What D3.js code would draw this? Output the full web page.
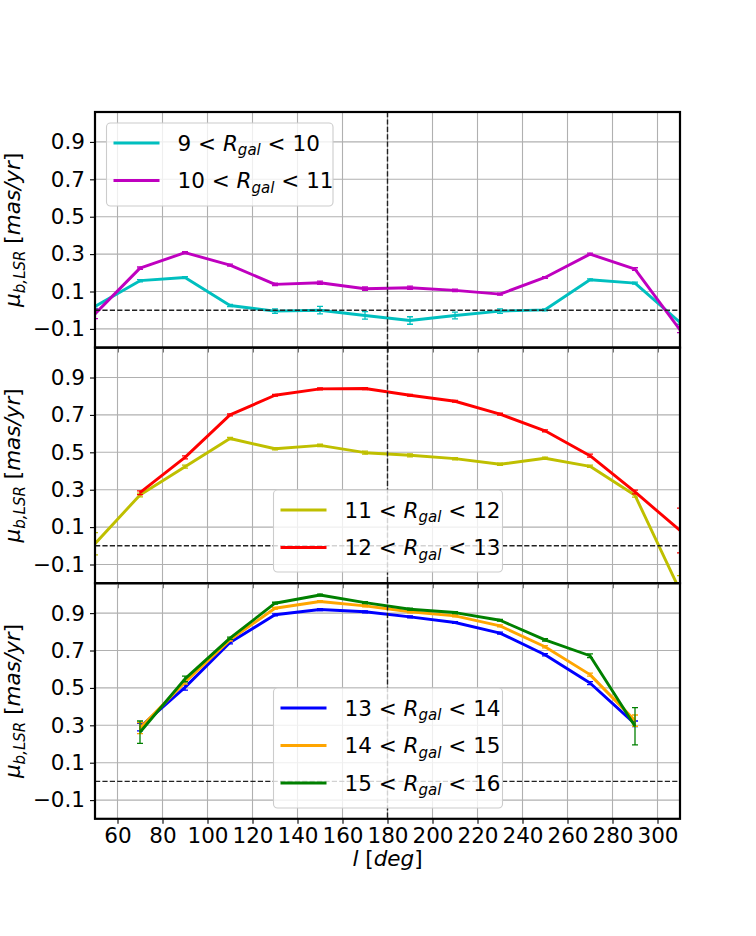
<!DOCTYPE html>
<html>
<head>
<meta charset="utf-8">
<script src="https://d3js.org/d3.v7.min.js"></script>
<style>
  body { margin: 0; background: #fff; }
  text { font-family: "DejaVu Sans", sans-serif; }
</style>
</head>
<body>
<div id="chart"></div>
<script>
// galactic longitude of each bin
const lon = [50, 70, 90, 110, 130, 150, 170, 190, 210, 230, 250, 270, 290, 310];
const lonRed = [70, 90, 110, 130, 150, 170, 190, 210, 230, 250, 270, 290, 310];
const lonOuter = [70, 90, 110, 130, 150, 170, 190, 210, 230, 250, 270, 290];

// panel 1
const r9 = [0.02, 0.158, 0.175, 0.025, -0.005, 0.0, -0.028, -0.055, -0.028, -0.005, 0.002, 0.163, 0.145, -0.065];
const r9err = [0.01, 0.006, 0.005, 0.006, 0.012, 0.02, 0.02, 0.02, 0.018, 0.012, 0.005, 0.005, 0.005, 0.01];
const r10 = [-0.02, 0.225, 0.308, 0.241, 0.138, 0.147, 0.115, 0.12, 0.106, 0.086, 0.175, 0.30, 0.22, -0.105];
const r10err = [0.025, 0.006, 0.005, 0.005, 0.007, 0.009, 0.009, 0.009, 0.007, 0.005, 0.005, 0.005, 0.007, 0.015];

// panel 2
const r11 = [0.011, 0.272, 0.423, 0.574, 0.519, 0.537, 0.498, 0.484, 0.466, 0.436, 0.468, 0.425, 0.27, -0.24];
const r11err = [0.06, 0.01, 0.008, 0.006, 0.006, 0.006, 0.008, 0.008, 0.006, 0.006, 0.006, 0.006, 0.01, 0.08];
const r12 = [0.284, 0.473, 0.70, 0.805, 0.839, 0.841, 0.805, 0.773, 0.704, 0.615, 0.482, 0.288, 0.082];
const r12err = [0.01, 0.008, 0.005, 0.005, 0.005, 0.005, 0.005, 0.005, 0.005, 0.005, 0.008, 0.01, 0.12];

// panel 3
const r13 = [0.29, 0.503, 0.743, 0.891, 0.919, 0.907, 0.88, 0.85, 0.793, 0.677, 0.526, 0.308];
const r13err = [0.02, 0.015, 0.008, 0.005, 0.005, 0.005, 0.005, 0.005, 0.005, 0.006, 0.008, 0.015];
const r14 = [0.285, 0.53, 0.757, 0.926, 0.962, 0.939, 0.907, 0.885, 0.832, 0.72, 0.571, 0.325];
const r14err = [0.03, 0.01, 0.006, 0.005, 0.005, 0.005, 0.005, 0.005, 0.005, 0.006, 0.008, 0.03];
const r15 = [0.263, 0.548, 0.766, 0.953, 0.997, 0.956, 0.921, 0.903, 0.862, 0.757, 0.672, 0.295];
const r15err = [0.06, 0.015, 0.006, 0.005, 0.005, 0.005, 0.005, 0.005, 0.005, 0.006, 0.01, 0.1];

const xTicks = [60, 80, 100, 120, 140, 160, 180, 200, 220, 240, 260, 280, 300];
const yTicks = [-0.1, 0.1, 0.3, 0.5, 0.7, 0.9];

const panels = [
  { series: [
      { lo: 9, hi: 10, color: "#00bfbf", x: lon, y: r9, e: r9err },
      { lo: 10, hi: 11, color: "#bf00bf", x: lon, y: r10, e: r10err }],
    legend: { x: 106.5, y: 123, w: 226.5, h: 83 } },
  { series: [
      { lo: 11, hi: 12, color: "#bfbf00", x: lon, y: r11, e: r11err },
      { lo: 12, hi: 13, color: "#ff0000", x: lonRed, y: r12, e: r12err }],
    legend: { x: 273.5, y: 490, w: 229, h: 82 } },
  { series: [
      { lo: 13, hi: 14, color: "#0000ff", x: lonOuter, y: r13, e: r13err },
      { lo: 14, hi: 15, color: "#ffa500", x: lonOuter, y: r14, e: r14err },
      { lo: 15, hi: 16, color: "#008000", x: lonOuter, y: r15, e: r15err }],
    legend: { x: 273.5, y: 688, w: 229, h: 120 } }
];

const W = 756, H = 936;
const left = 95, right = 680;
const top0 = 112, ph = 235.6;
const fs = 21.5;

const svg = d3.select("#chart").append("svg")
  .attr("width", W).attr("height", H);

const x = d3.scaleLinear().domain([50, 310]).range([left, right]);

panels.forEach(function(p, i) {
  const t = top0 + i * ph;
  const y = d3.scaleLinear().domain([-0.2, 1.06]).range([t + ph, t]);
  const g = svg.append("g");

  g.append("clipPath").attr("id", "clip" + i)
    .append("rect").attr("x", left).attr("y", t).attr("width", right - left).attr("height", ph);

  // grid
  g.selectAll(null).data(xTicks).join("line")
    .attr("x1", d => x(d)).attr("x2", d => x(d))
    .attr("y1", t).attr("y2", t + ph)
    .attr("stroke", "#b0b0b0").attr("stroke-width", 1.1);
  g.selectAll(null).data(yTicks).join("line")
    .attr("x1", left).attr("x2", right)
    .attr("y1", d => y(d)).attr("y2", d => y(d))
    .attr("stroke", "#b0b0b0").attr("stroke-width", 1.1);

  // y axis ticks + labels
  const ya = g.append("g").attr("transform", `translate(${left},0)`)
    .call(d3.axisLeft(y).tickValues(yTicks).tickSize(5).tickPadding(5)
      .tickFormat(d => d3.format(".1f")(d).replace("-", "\u2212")));
  ya.select(".domain").remove();
  ya.selectAll("line").attr("stroke", "#000").attr("stroke-width", 1.1);
  ya.selectAll("text").style("font-size", fs + "px").style("font-family", "DejaVu Sans").attr("fill", "#000");

  // x axis ticks
  const xa = g.append("g").attr("transform", `translate(0,${t + ph})`)
    .call(d3.axisBottom(x).tickValues(xTicks).tickSize(5).tickPadding(4));
  xa.select(".domain").remove();
  xa.selectAll("line").attr("stroke", "#000").attr("stroke-width", 1.1);
  xa.selectAll("text").style("font-size", fs + "px").style("font-family", "DejaVu Sans").attr("fill", "#000");
  if (i < 2) xa.selectAll("text").remove();

  const plot = g.append("g").attr("clip-path", `url(#clip${i})`);

  p.series.forEach(function(s) {
    const pts = s.x.map((xv, k) => ({ x: xv, y: s.y[k], e: s.e[k] }));
    plot.append("path").datum(pts)
      .attr("fill", "none").attr("stroke", s.color).attr("stroke-width", 2.9)
      .attr("stroke-linejoin", "round")
      .attr("d", d3.line().x(d => x(d.x)).y(d => y(d.y)));
    const eb = plot.append("g").attr("stroke", s.color).attr("stroke-width", 1.3);
    eb.selectAll(null).data(pts).join("line")
      .attr("x1", d => x(d.x)).attr("x2", d => x(d.x))
      .attr("y1", d => y(d.y - d.e)).attr("y2", d => y(d.y + d.e));
    [-1, 1].forEach(function(sg) {
      eb.selectAll(null).data(pts).join("line")
        .attr("x1", d => x(d.x) - 3).attr("x2", d => x(d.x) + 3)
        .attr("y1", d => y(d.y + sg * d.e)).attr("y2", d => y(d.y + sg * d.e));
    });
  });

  // reference lines
  plot.append("line")
    .attr("x1", left).attr("x2", right).attr("y1", y(0)).attr("y2", y(0))
    .attr("stroke", "#222").attr("stroke-width", 1.4).attr("stroke-dasharray", "5.2,2.2");
  plot.append("line")
    .attr("x1", x(180)).attr("x2", x(180)).attr("y1", t).attr("y2", t + ph)
    .attr("stroke", "#222").attr("stroke-width", 1.4).attr("stroke-dasharray", "5.2,2.2");

  // spines
  g.append("rect").attr("x", left).attr("y", t).attr("width", right - left).attr("height", ph)
    .attr("fill", "none").attr("stroke", "#000").attr("stroke-width", 2.2);

  // legend
  const L = p.legend;
  const lg = g.append("g");
  lg.append("rect").attr("x", L.x).attr("y", L.y).attr("width", L.w).attr("height", L.h)
    .attr("rx", 4).attr("fill", "#fff").attr("fill-opacity", 0.8)
    .attr("stroke", "#cccccc").attr("stroke-width", 1.1);
  p.series.forEach(function(s, k) {
    const ly = L.y + 20 + k * 37.5;
    lg.append("line").attr("x1", L.x + 7).attr("x2", L.x + 53).attr("y1", ly).attr("y2", ly)
      .attr("stroke", s.color).attr("stroke-width", 2.9);
    const tx = lg.append("text").attr("x", L.x + 71).attr("y", ly).attr("dy", "0.36em")
      .style("font-size", fs + "px").attr("fill", "#000");
    tx.append("tspan").text(s.lo + " < ");
    tx.append("tspan").attr("font-style", "italic").text("R");
    tx.append("tspan").attr("font-style", "italic").attr("font-size", (fs * 0.7) + "px").attr("dy", "0.3em").text("gal");
    tx.append("tspan").attr("dy", "-0.21em").text(" < " + s.hi);
  });

  // y label
  const yl = g.append("text")
    .attr("transform", `translate(20,${t + ph / 2}) rotate(-90)`)
    .attr("text-anchor", "middle").style("font-size", fs + "px").attr("fill", "#000");
  yl.append("tspan").attr("font-style", "italic").text("\u03bc");
  yl.append("tspan").attr("font-style", "italic").attr("font-size", (fs * 0.7) + "px").attr("dy", "0.3em").text("b,LSR");
  yl.append("tspan").attr("dy", "-0.21em").text(" [");
  yl.append("tspan").attr("font-style", "italic").text("mas/yr");
  yl.append("tspan").text("]");
});

// x label
const xl = svg.append("text")
  .attr("x", (left + right) / 2).attr("y", 866)
  .attr("text-anchor", "middle").style("font-size", fs + "px").attr("fill", "#000");
xl.append("tspan").attr("font-style", "italic").text("l");
xl.append("tspan").text(" [");
xl.append("tspan").attr("font-style", "italic").text("deg");
xl.append("tspan").text("]");
</script>
</body>
</html>
